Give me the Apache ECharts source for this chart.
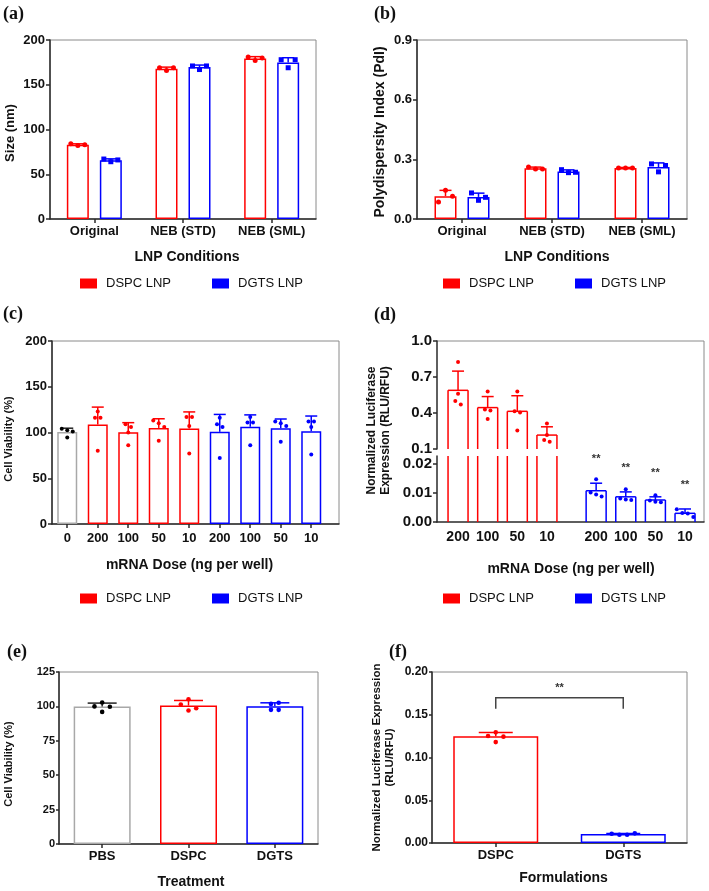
<!DOCTYPE html>
<html><head><meta charset="utf-8">
<script src="https://cdn.jsdelivr.net/npm/echarts@6/dist/echarts.min.js"></script>
<style>html,body{margin:0;padding:0;background:#fff}#c{width:709px;height:891px}</style>
</head><body><div id="c"></div>
<script>
// ---------------- DATA ----------------
// (a) particle size
const condCats = ['Original', 'NEB (STD)', 'NEB (SML)'];
const sizeDSPC = [83, 168, 179.3];
const sizeDSPCSd = [1, 1.7, 2.1];
const sizeDSPCPts = [[84, 82, 83], [169, 166, 169], [181, 177, 180]];
const sizeDGTS = [65.7, 169.7, 175];
const sizeDGTSSd = [1.5, 2.3, 5.2];
const sizeDGTSPts = [[67, 64, 66], [171, 167, 171], [178, 169, 178]];
// (b) PdI
const pdiDSPC = [0.115, 0.255, 0.257];
const pdiDSPCSd = [0.029, 0.006, 0.002];
const pdiDSPCPts = [[0.086, 0.144, 0.114], [0.262, 0.252, 0.252], [0.257, 0.257, 0.257]];
const pdiDGTS = [0.111, 0.239, 0.261];
const pdiDGTSSd = [0.019, 0.008, 0.021];
const pdiDGTSPts = [[0.131, 0.094, 0.109], [0.248, 0.233, 0.235], [0.277, 0.237, 0.269]];
// (c) cell viability vs dose
const doseCats = ['0', '200', '100', '50', '10', '200', '100', '50', '10'];
const viaCtrl = [100.5];
const viaCtrlSd = [4.2];
const viaCtrlPts = [[104, 102.5, 101, 94.5]];
const viaDSPC = [108.75, 100.25, 105, 104.5];
const viaDSPCSd = [19, 10.5, 10, 18];
const viaDSPCPts = [[123, 116, 116, 80], [109, 106, 100, 86], [113, 110, 106, 91], [117, 117, 107, 77]];
const viaDGTS = [100.75, 106.25, 104.75, 101.5];
const viaDGTSSd = [19, 13, 10, 16.5];
const viaDGTSPts = [[116, 109, 106, 72], [117, 111, 111, 86], [112, 110, 107, 90], [112, 112, 106, 76]];
// (d) luciferase vs dose
const doseLabelsD = ['200', '100', '50', '10'];
const lucDSPC = [0.589, 0.445, 0.414, 0.216];
const lucDSPCSd = [0.16, 0.092, 0.13, 0.069];
const lucDSPCPts = [[0.825, 0.56, 0.50, 0.47], [0.58, 0.43, 0.42, 0.35], [0.58, 0.415, 0.405, 0.255], [0.313, 0.216, 0.175, 0.16]];
const lucDGTS = [0.0108, 0.0087, 0.0076, 0.0030];
const lucDGTSSd = [0.0026, 0.0017, 0.0011, 0.0015];
const lucDGTSPts = [[0.0148, 0.0102, 0.0095, 0.0088], [0.0113, 0.0081, 0.0078, 0.0076], [0.0092, 0.0074, 0.0070, 0.0068], [0.0044, 0.0031, 0.0029, 0.0017]];
const lucDGTSSig = ['**', '**', '**', '**'];
// (e) cell viability by treatment
const treatCats = ['PBS', 'DSPC', 'DGTS'];
const viaTreat = [100, 100.6, 100.1];
const viaTreatSd = [2.4, 3.7, 2.5];
const viaTreatPts = [[100, 102.8, 99.7, 96], [101.4, 105.2, 97, 98.7], [101.8, 97.5, 97.5, 102.6]];
// (f) luciferase by formulation
const formCats = ['DSPC', 'DGTS'];
const lucForm = [0.1248, 0.0104];
const lucFormSd = [0.0045, 0.0007];
const lucFormPts = [[0.1251, 0.1294, 0.1244, 0.118], [0.0109, 0.0097, 0.0097, 0.0113]];
const sigPair = [0, 1];
const sigLevel = 0.17;
const sigDrop = 0.013;
const sigText = '**';

// ---------------- STYLE / LAYOUT ----------------
const FONT = "'Liberation Sans', Arial, Helvetica, sans-serif";
const SERIF = "'Liberation Serif', 'Times New Roman', serif";
const RED = '#ff0000', BLUE = '#0000ff', GRAY = '#a8a8a8', BLACK = '#000000';
const AXC = '#2a2a2a', FRAME = '#8a8a8a', TXT = '#111111';
const eBarColors = [GRAY, RED, BLUE];
const eDotColors = [BLACK, RED, BLUE];
const eErrColors = ['#222222', RED, BLUE];
const fColors = [RED, BLUE];
const dGapUnits = 1.66;

const grids = [
  {left: 50, top: 40, width: 266, height: 179},
  {left: 417, top: 40, width: 270, height: 179},
  {left: 52, top: 341, width: 287, height: 183},
  {left: 437, top: 341, width: 267, height: 108, show: false},
  {left: 437, top: 456, width: 267, height: 66, show: false},
  {left: 59, top: 672, width: 259, height: 172},
  {left: 432, top: 672, width: 255, height: 171}
].map(g => Object.assign({show: true, borderColor: FRAME, borderWidth: 1, backgroundColor: 'transparent', containLabel: false, outerBoundsMode: 'none'}, g));

const axLine = {show: true, onZero: false, lineStyle: {color: AXC, width: 1.5}};
function catAxis(gi, cats, fs, margin) {
  return {type: 'category', gridIndex: gi, data: cats,
    axisLine: axLine,
    axisTick: {show: true, alignWithLabel: true, length: 4, lineStyle: {color: AXC, width: 1.5}},
    axisLabel: {fontSize: fs, fontWeight: 'bold', color: TXT, fontFamily: FONT, margin: margin, interval: 0},
    splitLine: {show: false}};
}
function posAxis(gi, positions, labels, min, max, fs, margin, showTick, show) {
  return {type: 'value', gridIndex: gi, min: min, max: max, show: show,
    axisLine: axLine,
    axisTick: {show: showTick, customValues: positions, length: 4, lineStyle: {color: AXC, width: 1.5}},
    axisLabel: {customValues: positions, fontSize: fs, fontWeight: 'bold', color: TXT, fontFamily: FONT, margin: margin,
      formatter: function (v) { const i = positions.findIndex(p => Math.abs(p - v) < 1e-6); return i < 0 ? '' : labels[i]; }},
    splitLine: {show: false}};
}
function valAxis(gi, min, max, interval, fs, dec, margin, tickLen, custom) {
  const a = {type: 'value', gridIndex: gi, min: min, max: max, interval: interval,
    axisLine: axLine,
    axisTick: {show: true, length: tickLen, lineStyle: {color: AXC, width: 1.5}},
    axisLabel: {fontSize: fs, fontWeight: 'bold', color: TXT, fontFamily: FONT, margin: margin,
      formatter: v => Number(v).toFixed(dec)},
    splitLine: {show: false}};
  if (custom) { a.axisTick.customValues = custom; a.axisLabel.customValues = custom; }
  return a;
}

function barSeries(name, xi, yi, data, color, width, gap) {
  return {type: 'bar', name: name, xAxisIndex: xi, yAxisIndex: yi, data: data, barWidth: width, barGap: gap,
    clip: true, z: 2, silent: true,
    itemStyle: {color: '#ffffff', borderColor: color, borderWidth: 1.5}};
}
// open bar for the broken axis: sides clipped to the segment, top only when inside
function openBarSeries(xi, yi, xs, vals, color, width) {
  return {type: 'custom', xAxisIndex: xi, yAxisIndex: yi, z: 2, silent: true,
    data: vals.map((v, i) => [xs[i], v]),
    encode: {x: 0, y: 1},
    renderItem: function (params, api) {
      const i = params.dataIndex, cs = params.coordSys;
      const p = api.coord([xs[i], vals[i]]);
      const bottom = cs.y + cs.height;
      const top = Math.max(p[1], cs.y);
      const l = p[0] - width / 2, r = p[0] + width / 2;
      const st = {stroke: color, lineWidth: 1.5, fill: null};
      const ch = [
        {type: 'line', shape: {x1: l, y1: bottom, x2: l, y2: top}, style: st},
        {type: 'line', shape: {x1: r, y1: bottom, x2: r, y2: top}, style: st}
      ];
      if (p[1] >= cs.y) ch.push({type: 'line', shape: {x1: l, y1: top, x2: r, y2: top}, style: st});
      return {type: 'group', children: ch};
    }};
}
function errSeries(xi, yi, xs, means, sds, colorFn, offset, cap, sig) {
  return {type: 'custom', xAxisIndex: xi, yAxisIndex: yi, z: 3, silent: true,
    data: means.map((m, i) => [xs[i], m, sds[i]]),
    encode: {x: 0, y: 1},
    renderItem: function (params, api) {
      const i = params.dataIndex;
      const x = xs[i], m = means[i], s = sds[i];
      const p0 = api.coord([x, m]), p1 = api.coord([x, m + s]);
      const cx = p0[0] + offset, c = colorFn(i);
      const ch = [
        {type: 'line', shape: {x1: cx, y1: p0[1], x2: cx, y2: p1[1]}, style: {stroke: c, lineWidth: 1.5}},
        {type: 'line', shape: {x1: cx - cap / 2, y1: p1[1], x2: cx + cap / 2, y2: p1[1]}, style: {stroke: c, lineWidth: 1.5}}
      ];
      if (sig) ch.push({type: 'text', x: cx, y: p1[1] - 24, style: {text: sig[i], fontSize: 11, fontWeight: 'bold', fontFamily: FONT, fill: '#333', align: 'center', verticalAlign: 'middle', textAlign: 'center', textVerticalAlign: 'middle'}});
      return {type: 'group', children: ch};
    }};
}
// dots: 'fixed' spreads every group in columns; otherwise a beeswarm of colliding points
function dotSeries(xi, yi, xs, groups, colorFn, offset, r, spacing, square, fixed) {
  return {type: 'custom', xAxisIndex: xi, yAxisIndex: yi, z: 4, silent: true,
    data: groups.map((g, i) => [xs[i], g[0]]),
    encode: {x: 0, y: 1},
    renderItem: function (params, api) {
      const gi = params.dataIndex, g = groups[gi], x = xs[gi];
      const pts = g.map(v => api.coord([x, v]));
      let clusters;
      if (fixed) {
        clusters = [g.map((v, i) => i)];
      } else {
        const order = pts.map((p, i) => i).sort((a, b) => pts[a][1] - pts[b][1]);
        clusters = []; let cur = [order[0]];
        for (let k = 1; k < order.length; k++) {
          if (pts[order[k]][1] - pts[order[k - 1]][1] < 2 * r + 0.4) cur.push(order[k]);
          else { clusters.push(cur); cur = [order[k]]; }
        }
        clusters.push(cur);
      }
      const ch = [], c = colorFn(gi);
      clusters.forEach(cl => {
        cl.sort((a, b) => a - b);
        cl.forEach((idx, j) => {
          const cx = pts[idx][0] + offset + (j - (cl.length - 1) / 2) * spacing, cy = pts[idx][1];
          if (square) ch.push({type: 'rect', shape: {x: cx - r, y: cy - r, width: 2 * r, height: 2 * r}, style: {fill: c}});
          else ch.push({type: 'circle', shape: {cx: cx, cy: cy, r: r}, style: {fill: c}});
        });
      });
      return {type: 'group', children: ch};
    }};
}
function legend(left, top) {
  return {left: left, top: top, orient: 'horizontal', icon: 'rect', itemWidth: 17, itemHeight: 10, itemGap: 41,
    selectedMode: false, padding: 0,
    textStyle: {fontSize: 13, color: TXT, fontFamily: FONT, padding: [0, 0, 0, 4]},
    itemStyle: {borderWidth: 0},
    data: [{name: 'DSPC LNP', itemStyle: {color: RED, borderWidth: 0}}, {name: 'DGTS LNP', itemStyle: {color: BLUE, borderWidth: 0}}]};
}
function txt(x, y, text, fs, rot, lh, family) {
  return {type: 'text', x: x, y: y, rotation: rot ? Math.PI / 2 : 0, silent: true,
    style: {text: text, fontSize: fs, fontWeight: 'bold', fontFamily: family || FONT, fill: TXT,
      align: 'center', verticalAlign: 'middle', textAlign: 'center', textVerticalAlign: 'middle', lineHeight: lh || fs * 1.2}};
}
function plabel(x, y, text) {
  return {type: 'text', x: x, y: y, silent: true,
    style: {text: text, fontSize: 18, fontWeight: 'bold', fontFamily: SERIF, fill: TXT, align: 'left', verticalAlign: 'middle', textAlign: 'left', textVerticalAlign: 'middle'}};
}

// positions
const idxA = condCats.map((c, i) => i);
const idxCtrl = [0];
const idxCD = [1, 2, 3, 4];
const idxCG = [5, 6, 7, 8];
const posDD = doseLabelsD.map((l, i) => i);
const posDG = doseLabelsD.map((l, i) => doseLabelsD.length - 1 + dGapUnits + i);
const posD = posDD.concat(posDG);
const labD = doseLabelsD.concat(doseLabelsD);
const idxE = treatCats.map((c, i) => i);
const idxF = formCats.map((c, i) => i);
const posC = doseCats.map((c, i) => i);

const xAxes = [
  catAxis(0, condCats, 13, 6),
  catAxis(1, condCats, 13, 6),
  posAxis(2, posC, doseCats, -0.5, 8.91, 13, 8, true, true),
  posAxis(3, posD, labD, -0.71, 8.3, 14, 8, false, false),
  posAxis(4, posD, labD, -0.71, 8.3, 14, 8, false, true),
  catAxis(5, treatCats, 13, 6),
  catAxis(6, formCats, 13, 6)
];
const yAxes = [
  valAxis(0, 0, 200, 50, 13, 0, 5, 4),
  valAxis(1, 0, 0.9, 0.3, 13, 1, 5, 4),
  valAxis(2, 0, 200, 50, 13, 0, 5, 4),
  valAxis(3, 0.1, 1.0, 0.3, 15, 1, 5, 4, [0.1, 0.4, 0.7, 1.0]),
  valAxis(4, 0, 0.0228, 0.01, 15, 2, 5, 4, [0, 0.01, 0.02]),
  valAxis(5, 0, 125, 25, 11, 0, 4, 3),
  valAxis(6, 0, 0.2, 0.05, 12, 2, 4, 3)
];

const red = () => RED, blue = () => BLUE, black = () => BLACK;
const OFF = 16.5;
const series = [
  // (a)
  barSeries('DSPC LNP', 0, 0, sizeDSPC, RED, 22, '50%'),
  barSeries('DGTS LNP', 0, 0, sizeDGTS, BLUE, 22, '50%'),
  errSeries(0, 0, idxA, sizeDSPC, sizeDSPCSd, red, -OFF, 12),
  errSeries(0, 0, idxA, sizeDGTS, sizeDGTSSd, blue, OFF, 12),
  dotSeries(0, 0, idxA, sizeDSPCPts, red, -OFF, 2.5, 7, false, true),
  dotSeries(0, 0, idxA, sizeDGTSPts, blue, OFF, 2.5, 7, true, true),
  // (b)
  barSeries('DSPC LNP', 1, 1, pdiDSPC, RED, 22, '50%'),
  barSeries('DGTS LNP', 1, 1, pdiDGTS, BLUE, 22, '50%'),
  errSeries(1, 1, idxA, pdiDSPC, pdiDSPCSd, red, -OFF, 12),
  errSeries(1, 1, idxA, pdiDGTS, pdiDGTSSd, blue, OFF, 12),
  dotSeries(1, 1, idxA, pdiDSPCPts, red, -OFF, 2.5, 7, false, true),
  dotSeries(1, 1, idxA, pdiDGTSPts, blue, OFF, 2.5, 7, true, true),
  // (c)
  barSeries('Control', 2, 2, viaCtrl.map((v, i) => [idxCtrl[i], v]), GRAY, 20, '-100%'),
  barSeries('DSPC LNP', 2, 2, viaDSPC.map((v, i) => [idxCD[i], v]), RED, 20, '-100%'),
  barSeries('DGTS LNP', 2, 2, viaDGTS.map((v, i) => [idxCG[i], v]), BLUE, 20, '-100%'),
  errSeries(2, 2, idxCtrl, viaCtrl, viaCtrlSd, () => '#222', 0, 12),
  errSeries(2, 2, idxCD, viaDSPC, viaDSPCSd, red, 0, 12),
  errSeries(2, 2, idxCG, viaDGTS, viaDGTSSd, blue, 0, 12),
  dotSeries(2, 2, idxCtrl, viaCtrlPts, black, 0, 2, 5.5, false),
  dotSeries(2, 2, idxCD, viaDSPCPts, red, 0, 2, 5.5, false),
  dotSeries(2, 2, idxCG, viaDGTSPts, blue, 0, 2, 5.5, false),
  // (d) upper segment
  openBarSeries(3, 3, posDD, lucDSPC, RED, 20),
  errSeries(3, 3, posDD, lucDSPC, lucDSPCSd, red, 0, 12),
  dotSeries(3, 3, posDD, lucDSPCPts, red, 0, 2, 5.5, false),
  // (d) lower segment
  openBarSeries(4, 4, posDD, lucDSPC, RED, 20),
  openBarSeries(4, 4, posDG, lucDGTS, BLUE, 20),
  errSeries(4, 4, posDG, lucDGTS, lucDGTSSd, blue, 0, 12, lucDGTSSig),
  dotSeries(4, 4, posDG, lucDGTSPts, blue, 0, 2, 5.5, false),
  // (e)
  {type: 'bar', xAxisIndex: 5, yAxisIndex: 5, barWidth: 57, z: 2, silent: true,
    data: viaTreat.map((v, i) => ({value: v, itemStyle: {color: '#fff', borderColor: eBarColors[i], borderWidth: 1.5}}))},
  errSeries(5, 5, idxE, viaTreat, viaTreatSd, i => eErrColors[i], 0, 29),
  dotSeries(5, 5, idxE, viaTreatPts, i => eDotColors[i], 0, 2.3, 7.7, false),
  // (f)
  {type: 'bar', xAxisIndex: 6, yAxisIndex: 6, barWidth: 85, z: 2, silent: true,
    data: lucForm.map((v, i) => ({value: v, itemStyle: {color: '#fff', borderColor: fColors[i], borderWidth: 1.5}}))},
  errSeries(6, 6, idxF, lucForm, lucFormSd, i => fColors[i], 0, 34),
  dotSeries(6, 6, idxF, lucFormPts, i => fColors[i], 0, 2.3, 7.7, false),
  {type: 'custom', xAxisIndex: 6, yAxisIndex: 6, z: 5, silent: true,
    data: [[sigPair[0], sigLevel]],
    renderItem: function (params, api) {
      const a = api.coord([sigPair[0], sigLevel]), b = api.coord([sigPair[1], sigLevel]);
      const d = api.coord([sigPair[0], sigLevel - sigDrop]);
      return {type: 'group', children: [
        {type: 'polyline', shape: {points: [[a[0], d[1]], [a[0], a[1]], [b[0], b[1]], [b[0], d[1]]]}, style: {stroke: '#444', lineWidth: 1.5, fill: null}},
        {type: 'text', x: (a[0] + b[0]) / 2, y: a[1] - 10, style: {text: sigText, fontSize: 11, fontWeight: 'bold', fontFamily: FONT, fill: '#333', align: 'center', verticalAlign: 'middle', textAlign: 'center', textVerticalAlign: 'middle'}}
      ]};
    }}
];

const graphics = [
  plabel(3, 14, '(a)'), plabel(374, 14, '(b)'), plabel(3, 314, '(c)'), plabel(374, 315, '(d)'), plabel(7, 652, '(e)'), plabel(389, 652, '(f)'),
  txt(10, 133, 'Size (nm)', 13, true),
  txt(187, 257, 'LNP Conditions', 14),
  txt(380, 132, 'Polydispersity Index (PdI)', 14, true),
  txt(557, 257, 'LNP Conditions', 14),
  txt(9, 439, 'Cell Viability (%)', 11, true),
  txt(189.5, 565, 'mRNA Dose (ng per well)', 14),
  txt(378.5, 430.5, 'Normalized Luciferase\nExpression (RLU/RFU)', 12, true, 14),
  txt(571, 569, 'mRNA Dose (ng per well)', 14),
  txt(9, 764, 'Cell Viability (%)', 11, true),
  txt(191, 882, 'Treatment', 14),
  txt(383.5, 757.5, 'Normalized Luciferase Expression\n(RLU/RFU)', 11.5, true, 13),
  txt(563.5, 878, 'Formulations', 14),
  {type: 'polyline', silent: true, shape: {points: [[437, 341], [704, 341], [704, 522]]}, style: {stroke: FRAME, lineWidth: 1, fill: null}}
];

const chart = echarts.init(document.getElementById('c'), null, {renderer: 'canvas'});
chart.setOption({
  animation: false,
  backgroundColor: '#ffffff',
  textStyle: {fontFamily: FONT},
  grid: grids,
  xAxis: xAxes,
  yAxis: yAxes,
  legend: [legend(80, 277), legend(443, 277), legend(80, 592), legend(443, 592)],
  series: series,
  graphic: graphics
});
</script></body></html>
